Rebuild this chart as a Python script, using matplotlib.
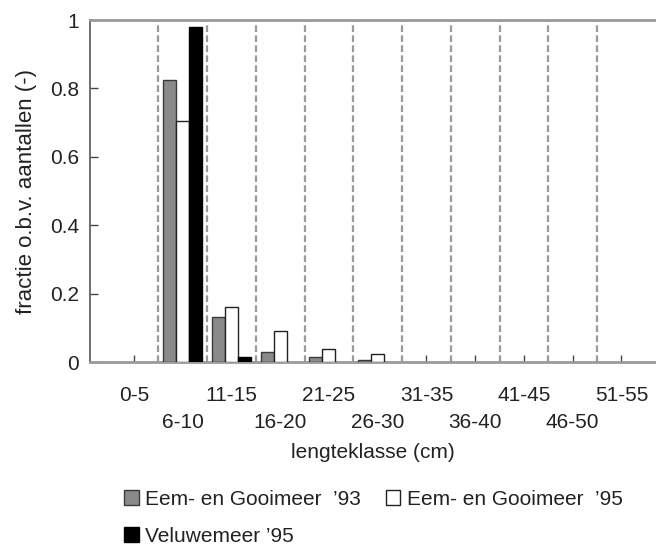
import matplotlib
matplotlib.use("Agg")
import matplotlib.pyplot as plt
import numpy as np

plt.rcParams['font.family'] = ['Liberation Sans', 'DejaVu Sans']

# length classes (cm)
klassen = ["0-5", "6-10", "11-15", "16-20", "21-25", "26-30",
           "31-35", "36-40", "41-45", "46-50", "51-55"]

# fraction based on counts
eem_93 = [0, 0.825, 0.132, 0.030, 0.014, 0.005, 0, 0, 0, 0, 0]
eem_95 = [0, 0.705, 0.160, 0.090, 0.037, 0.022, 0, 0, 0, 0, 0]
veluwe_95 = [0, 0.980, 0.016, 0, 0, 0, 0, 0, 0, 0, 0]

namen = ["Eem- en Gooimeer  \u201993", "Eem- en Gooimeer  \u201995", "Veluwemeer \u201995"]

fs = 15
tekst = "#222222"


def zonder_nul(v):
    # empty classes get no bar at all
    v = np.array(v, dtype=float)
    return np.where(v > 0, v, np.nan)


fig = plt.figure(figsize=(6.56, 5.5), dpi=100)
ax = fig.add_axes([90/656, 1 - 362/550, 566/656, 342/550])

x = np.arange(len(klassen))
w = 0.267

# dashed separators between classes
ax.vlines(x[:-1] + 0.5, 0, 1, colors="#9a9a9a", linewidth=1.6,
          linestyles=(0, (3, 1.5)), zorder=1)

b1 = ax.bar(x - w, zonder_nul(eem_93), w, color="#8a8a8a", edgecolor="#3a3a3a",
            linewidth=1.0, zorder=3)
b2 = ax.bar(x, zonder_nul(eem_95), w, color="white", edgecolor="#222222",
            linewidth=1.0, zorder=3)
b3 = ax.bar(x + w, zonder_nul(veluwe_95), w, color="black", edgecolor="black",
            linewidth=1.0, zorder=3)

ax.set_xlim(-0.903, 10.71)
ax.set_ylim(0, 1)

ax.set_yticks([0, 0.2, 0.4, 0.6, 0.8, 1])
ax.set_yticklabels(["0", "0.2", "0.4", "0.6", "0.8", "1"])
ax.set_xticks(x)
ax.set_xticklabels(klassen)

ax.tick_params(axis="y", direction="in", length=6, width=1, color="#444444",
               labelsize=fs, labelcolor=tekst, pad=8)
ax.tick_params(axis="x", direction="in", length=5, width=1, color="#444444",
               labelsize=fs, labelcolor=tekst, pad=17)
# staggered labels
for t in ax.xaxis.get_major_ticks()[1::2]:
    t.set_pad(17 + 20)

ax.spines["right"].set_visible(False)
ax.spines["left"].set_color("#555555")
ax.spines["left"].set_linewidth(1.2)
ax.spines["top"].set_color("#9a9a9a")
ax.spines["top"].set_linewidth(2)
ax.spines["bottom"].set_color("#9a9a9a")
ax.spines["bottom"].set_linewidth(2)

ax.set_xlabel("lengteklasse (cm)", fontsize=fs, color=tekst, labelpad=8)
ax.set_ylabel("fractie o.b.v. aantallen (-)", fontsize=fs + 1, color=tekst, labelpad=9)

# row-major order: two on the first line, Veluwemeer below
fig.legend([b1, b3, b2], [namen[0], namen[2], namen[1]], ncol=2, loc="upper left",
           bbox_to_anchor=(124/656, 1 - 490/550), frameon=False,
           fontsize=fs, labelcolor=tekst, handlelength=0.7, handleheight=0.7,
           handletextpad=0.3, columnspacing=1.2, labelspacing=0.85,
           borderpad=0, borderaxespad=0)

fig.savefig("out.png", dpi=100)
